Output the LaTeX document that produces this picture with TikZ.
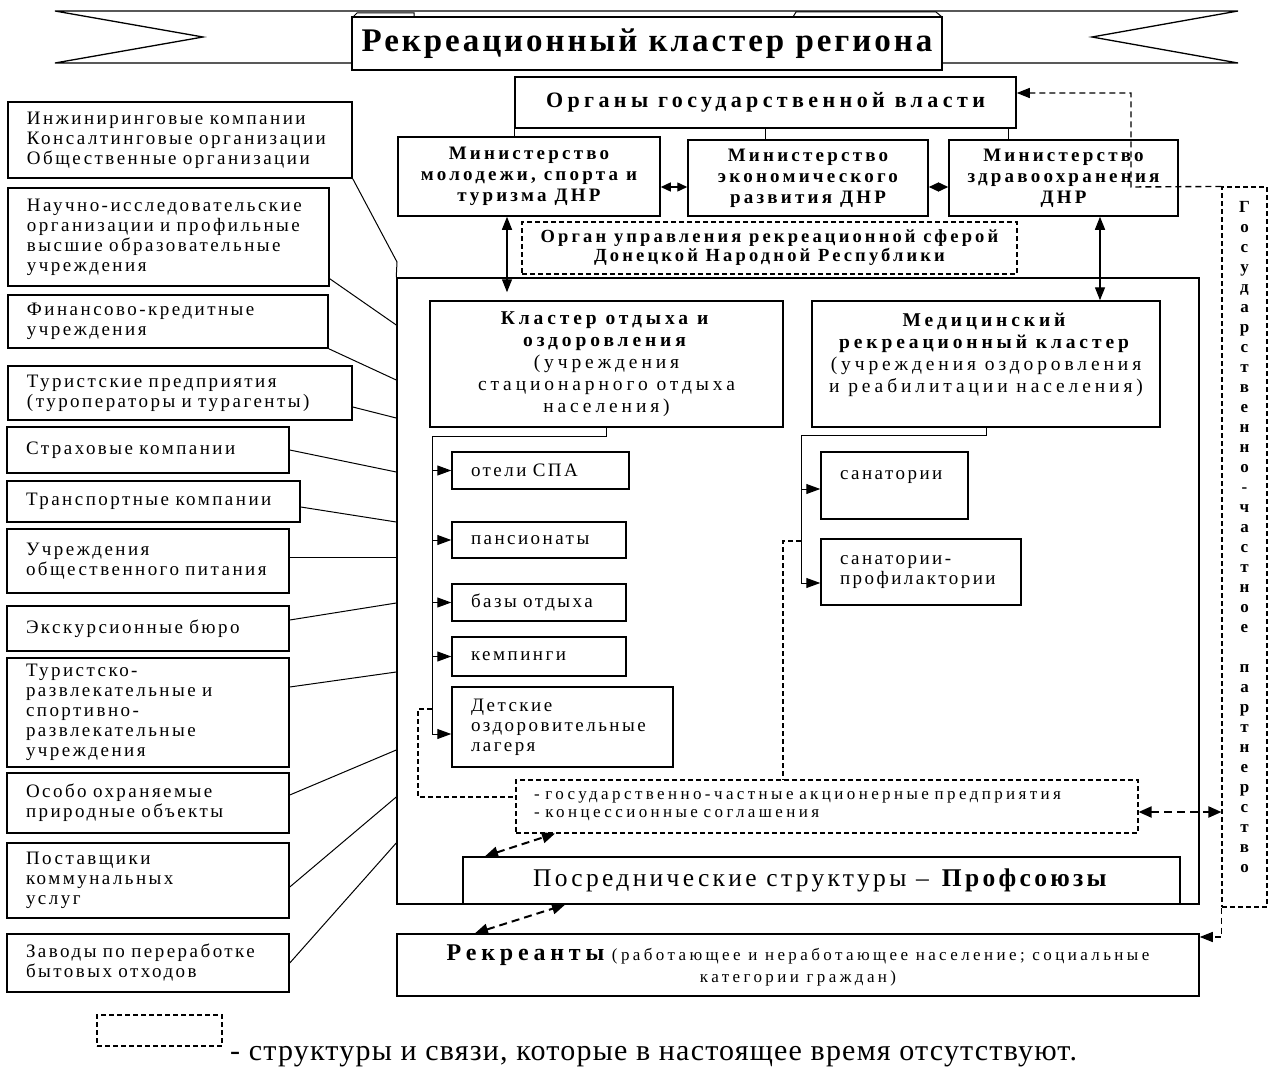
\documentclass[tikz,border=0pt]{standalone}
\usepackage{fontspec}
\setmainfont{Liberation Serif}
\newfontfamily\wideA[LetterSpace=13]{Liberation Serif}
\newfontfamily\wideB[LetterSpace=20]{Liberation Serif}
\newfontfamily\titlefont[LetterSpace=9]{Liberation Serif}
\usetikzlibrary{arrows.meta}

\tikzset{
  box/.style={draw, line width=1.5pt, inner sep=0pt},
  lbox/.style={box, align=left, font=\wideA\fontsize{19}{20}\selectfont},
  cbox/.style={box, align=center, font=\wideB\fontsize{19.5}{22}\selectfont},
  mbox/.style={box, align=center, font=\wideA\bfseries\fontsize{19}{21}\selectfont},
  dbox/.style={box, line width=1.1pt, dash pattern=on 5pt off 3pt},
  link/.style={line width=1pt},
  dlink/.style={line width=1.1pt, dash pattern=on 5pt off 3pt},
  twoway/.style={line width=1.4pt, {Triangle[length=13pt,width=10pt]}-{Triangle[length=13pt,width=10pt]}},
  shortway/.style={line width=1.4pt, {Triangle[length=10pt,width=9pt]}-{Triangle[length=10pt,width=9pt]}},
  oneway/.style={line width=1pt, -{Triangle[length=14pt,width=10pt]}},
  dtwoway/.style={line width=2pt, dash pattern=on 8pt off 5pt, {Triangle[length=13pt,width=11pt]}-{Triangle[length=13pt,width=11pt]}},
}

\begin{document}
\begin{tikzpicture}[x=1pt, y=-1pt]
\useasboundingbox (0,0) rectangle (1271,1070);

% title ribbon
\draw[line width=1.3pt, fill=white] (55,11) -- (1238,11) -- (1092,37) -- (1238,63) -- (55,63) -- (203,37) -- cycle;
\draw[line width=1pt] (353,17) -- (357,13) -- (414,13) -- (414,17);
\draw[line width=1pt] (793,17) -- (796,12) -- (936,12) -- (942,17);
\node[box, fill=white, minimum width=590pt, minimum height=53pt, font=\titlefont\bfseries\fontsize{33}{34}\selectfont] (title) at (647,43.5) {Рекреационный кластер региона};

% left column
\node[lbox, minimum width=344pt, minimum height=76pt, text width=306pt] (inzh) at (180,140) {Инжиниринговые компании\\Консалтинговые организации\\Общественные организации};
\node[lbox, minimum width=321pt, minimum height=98pt, text width=283pt] (nauch) at (168.5,237) {Научно-исследовательские\\организации и профильные\\высшие образовательные\\учреждения};
\node[lbox, minimum width=320pt, minimum height=53pt, text width=282pt] (fin) at (168,321.5) {Финансово-кредитные\\учреждения};
\node[lbox, minimum width=344pt, minimum height=54pt, text width=306pt] (tur) at (180,393) {Туристские предприятия\\(туроператоры и турагенты)};
\node[lbox, minimum width=282pt, minimum height=46pt, text width=244pt] (strah) at (148,450) {Страховые компании};
\node[lbox, minimum width=293pt, minimum height=41pt, text width=255pt] (transp) at (153.5,501.5) {Транспортные компании};
\node[lbox, minimum width=282pt, minimum height=64pt, text width=244pt] (pit) at (148,561) {Учреждения\\общественного питания\\[2pt]};
\node[lbox, minimum width=282pt, minimum height=45pt, text width=244pt] (exk) at (148,628.5) {Экскурсионные бюро};
\node[lbox, minimum width=282pt, minimum height=109pt, text width=244pt] (razvl) at (148,712.5) {Туристско-\\развлекательные и\\спортивно-\\развлекательные\\учреждения};
\node[lbox, minimum width=282pt, minimum height=60pt, text width=244pt] (prir) at (148,803) {Особо охраняемые\\природные объекты};
\node[lbox, minimum width=282pt, minimum height=75pt, text width=244pt] (komm) at (148,880.5) {Поставщики\\коммунальных\\услуг};
\node[lbox, minimum width=282pt, minimum height=58pt, text width=244pt] (zavod) at (148,963) {Заводы по переработке\\бытовых отходов};

% government
\node[box, font=\wideB\bfseries\fontsize{22}{24}\selectfont, minimum width=501pt, minimum height=51pt] (organy) at (765.5,102.5) {Органы государственной власти};
\node[mbox, font=\wideA\addfontfeature{LetterSpace=17}\bfseries\fontsize{19}{21}\selectfont, minimum width=262pt, minimum height=79pt] (minmol) at (529,176.5) {Министерство\\молодежи, спорта и\\туризма ДНР};
\node[mbox, font=\wideA\addfontfeature{LetterSpace=17}\bfseries\fontsize{19}{21}\selectfont, minimum width=240pt, minimum height=76pt] (minecon) at (808,178) {Министерство\\экономического\\развития ДНР};
\node[mbox, font=\wideA\addfontfeature{LetterSpace=17}\bfseries\fontsize{19}{21}\selectfont, minimum width=229pt, minimum height=76pt] (minhealth) at (1063.5,178) {Министерство\\здравоохранения\\ДНР};
\node[dbox, align=center, font=\wideA\addfontfeature{LetterSpace=17}\bfseries\fontsize{18.5}{19}\selectfont, minimum width=495pt, minimum height=52pt] (organ) at (769.5,248) {Орган управления рекреационной сферой\\Донецкой Народной Республики};

\draw[link] (organy.south west) -- (organy.south west |- minmol.north);
\draw[link] (organy.south) -- (organy.south |- minecon.north);
\draw[link] ([xshift=-8pt]organy.south east) -- ([xshift=-8pt]organy.south east |- minhealth.north);
\draw[shortway] (minmol.east |- 0,187) -- (minecon.west |- 0,187);
\draw[shortway] (minecon.east |- 0,187) -- (minhealth.west |- 0,187);

% cluster frame
\node[box, minimum width=802pt, minimum height=626pt] (clust) at (798,591) {};
\coordinate (bustop) at (397,262);

\node[cbox, minimum width=353pt, minimum height=126pt] (klotd) at (606.5,364) {\textbf{Кластер отдыха и}\\\textbf{оздоровления}\\(учреждения\\стационарного отдыха\\населения)};
\node[cbox, minimum width=348pt, minimum height=126pt] (klmed) at (986,364) {\textbf{Медицинский}\\\textbf{рекреационный кластер}\\(учреждения  оздоровления\\и реабилитации населения)\\\mbox{}};

\draw[twoway] (507,0 |- minmol.south) -- ([yshift=8pt]507,0 |- klotd.north);
\draw[twoway] (1100,0 |- minhealth.south) -- (1100,0 |- klmed.north);

% recreation sub-units
\node[lbox, minimum width=177pt, minimum height=37pt, text width=139pt] (spa) at (540.5,470.5) {отели СПА};
\node[lbox, minimum width=174pt, minimum height=36pt, text width=136pt] (pans) at (539,540) {пансионаты};
\node[lbox, minimum width=174pt, minimum height=37pt, text width=136pt] (bazy) at (539,602.5) {базы отдыха};
\node[lbox, minimum width=174pt, minimum height=39pt, text width=136pt] (kemp) at (539,656.5) {кемпинги};
\node[lbox, minimum width=221pt, minimum height=80pt, text width=183pt] (deti) at (562.5,727) {Детские\\оздоровительные\\лагеря};
\coordinate (lbus) at (432,436);
\draw[link] (klotd.south) |- (lbus) -- (lbus |- 0,734);
\draw[oneway] (lbus |- spa.west) -- (spa.west);
\draw[oneway] (lbus |- pans.west) -- (pans.west);
\draw[oneway] (lbus |- bazy.west) -- (bazy.west);
\draw[oneway] (lbus |- kemp.west) -- (kemp.west);
\draw[oneway] (lbus |- 0,734) -- (deti.west |- 0,734);

% medical sub-units
\node[lbox, minimum width=147pt, minimum height=67pt, text width=109pt] (san) at (894.5,485.5) {санатории\\\mbox{}};
\node[lbox, minimum width=200pt, minimum height=66pt, text width=162pt] (sanpr) at (921,572) {санатории-\\профилактории};
\coordinate (rbus) at (801,435);
\draw[link] (klmed.south) |- (rbus) -- (rbus |- 0,583);
\draw[oneway] (rbus |- 0,489) -- (san.west |- 0,489);
\draw[oneway] (rbus |- 0,583) -- (sanpr.west |- 0,583);

% missing structures
\node[dbox, align=left, font=\wideB\fontsize{17}{18}\selectfont, minimum width=622pt, minimum height=53pt, text width=586pt] (ppp) at (827,806.5) {- государственно-частные  акционерные  предприятия\\- концессионные  соглашения};
\draw[dlink] (lbus |- 0,709) -- (418,709) -- (418,797) -- (ppp.west |- 0,797);
\draw[dlink] (rbus |- 0,541) -| (783,0 |- ppp.north);

\node[box, font=\wideA\fontsize{25.5}{27}\selectfont, minimum width=717pt, minimum height=47pt] (posr) at (821.5,880.5) {Посреднические структуры – \textbf{Профсоюзы}};
\node[box, align=center, font=\wideB\fontsize{17}{22}\selectfont, minimum width=802pt, minimum height=62pt] (rekr) at (798,965) {{\fontsize{24}{22}\selectfont\bfseries Рекреанты} (работающее и неработающее  население;  социальные\\категории граждан)};

\node[dbox, align=center, font=\bfseries\fontsize{17}{20}\selectfont, minimum width=45pt, minimum height=720pt] (gcp) at (1244.5,547) {Г\\о\\с\\у\\д\\а\\р\\с\\т\\в\\е\\н\\н\\о\\-\\ч\\а\\с\\т\\н\\о\\е\\\mbox{}\\п\\а\\р\\т\\н\\е\\р\\с\\т\\в\\о\\\mbox{}};

\draw[dtwoway] (485,0 |- posr.north) -- (555,0 |- ppp.south);
\draw[dtwoway] (475,0 |- rekr.north) -- (565,0 |- posr.south);
\draw[dtwoway] (ppp.east |- 0,812) -- (gcp.west |- 0,812);
\draw[dlink, line width=1.4pt, dash pattern=on 6pt off 4pt, -{Triangle[length=13pt,width=10pt]}] (gcp.north west) -- (1131,187) -- (1131,93) -- (organy.east |- 0,93);
\draw[dlink, line width=1.4pt, dash pattern=on 6pt off 4pt, -{Triangle[length=13pt,width=10pt]}] (gcp.south west) -- (gcp.south west |- 0,937) -- (rekr.east |- 0,937);

% left links to the cluster
\draw[link] (inzh.south east) -- (bustop) -- (clust.north west);
\draw[link] ([yshift=8pt]nauch.south east) -- (clust.west |- 0,325);
\draw[link] (fin.south east) -- (clust.west |- 0,380);
\draw[link] (tur.east |- 0,407) -- (clust.west |- 0,418);
\draw[link] (strah.east) -- (clust.west |- 0,472);
\draw[link] (transp.east |- 0,507) -- (clust.west |- 0,522);
\draw[link] (pit.east |- 0,557) -- (clust.west |- 0,557);
\draw[link] (exk.east |- 0,620) -- (clust.west |- 0,603);
\draw[link] (razvl.east |- 0,687) -- (clust.west |- 0,672);
\draw[link] (prir.east |- 0,795) -- (clust.west |- 0,750);
\draw[link] (komm.east |- 0,887) -- (clust.west |- 0,797);
\draw[link] (zavod.east |- 0,963) -- (clust.west |- 0,843);

% legend
\node[dbox, minimum width=125pt, minimum height=31pt] (legbox) at (159.5,1030.5) {};
\node[anchor=base west, inner sep=0pt, font=\fontsize{30}{32}\selectfont\addfontfeature{LetterSpace=4}] (legtext) at (230,1060) {- структуры и связи, которые в настоящее время отсутствуют.};
\end{tikzpicture}
\end{document}
